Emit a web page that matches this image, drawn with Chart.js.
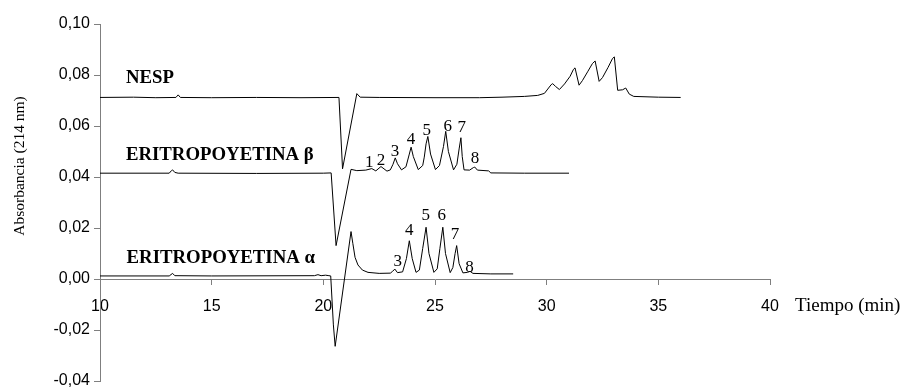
<!DOCTYPE html>
<html>
<head>
<meta charset="utf-8">
<script src="https://cdn.jsdelivr.net/npm/chart.js@4/dist/chart.umd.min.js"></script>
<style>
  html, body { margin: 0; padding: 0; background: #fff; }
  #wrap { width: 903px; height: 389px; }
</style>
</head>
<body>
<div id="wrap"><canvas id="chrom" width="903" height="389"></canvas></div>
<script>
// Axis ticks
const timeTicks = [10, 15, 20, 25, 30, 35, 40];
const absTicks = [-0.04, -0.02, 0.00, 0.02, 0.04, 0.06, 0.08, 0.10];

// NESP electropherogram
const nespTime = [10.0, 11.5, 12.5, 13.4, 13.5, 13.6, 15.0, 17.0, 19.0, 20.70, 20.86, 21.50, 21.65, 22.5, 25.0, 27.0,
  28.0, 29.0, 29.6, 29.9, 30.05, 30.2, 30.27, 30.4, 30.57, 30.8, 31.05, 31.2, 31.27, 31.45, 31.6, 31.85, 32.05, 32.17, 32.35,
  32.5, 32.75, 32.95, 33.03, 33.18, 33.4, 33.54, 33.7, 33.9, 35.0, 36.0];
const nespAbs = [0.0712, 0.0713, 0.0711, 0.0712, 0.0722, 0.0712, 0.0711, 0.0712, 0.0711, 0.0712, 0.0432, 0.0727, 0.0713, 0.0712, 0.0711, 0.0711,
  0.0713, 0.0716, 0.0720, 0.0728, 0.0745, 0.0762, 0.0766, 0.0755, 0.0743, 0.0765, 0.0795, 0.0822, 0.0828, 0.0760, 0.0778, 0.0815, 0.0845, 0.0855, 0.0775,
  0.0790, 0.0830, 0.0865, 0.0871, 0.0740, 0.0742, 0.0749, 0.0725, 0.0716, 0.0713, 0.0712];

// Eritropoyetina beta electropherogram
const betaTime = [10.0, 13.1, 13.2, 13.25, 13.35, 13.5, 17.0, 20.0, 20.35, 20.57, 21.24, 21.5, 21.9, 22.17, 22.35, 22.58, 22.85,
  23.0, 23.12, 23.22, 23.32, 23.5, 23.7, 23.85, 23.93, 24.03, 24.25, 24.45, 24.52, 24.6, 24.68, 24.8, 25.02,
  25.2, 25.38, 25.48, 25.6, 25.83, 25.98, 26.08, 26.16, 26.22, 26.3, 26.55, 26.72, 26.78, 26.9, 27.4, 27.5, 29.0, 31.0];
const betaAbs = [0.0415, 0.0415, 0.0425, 0.0428, 0.0418, 0.0415, 0.0414, 0.0415, 0.0416, 0.0131, 0.0430, 0.0425, 0.0427, 0.0433, 0.0424, 0.0441, 0.0423,
  0.0428, 0.0450, 0.0475, 0.0452, 0.0428, 0.0440, 0.0490, 0.0517, 0.0480, 0.0429, 0.0445, 0.0478, 0.0530, 0.0559, 0.0490, 0.0429,
  0.0445, 0.0520, 0.0579, 0.0500, 0.0428, 0.0450, 0.0510, 0.0554, 0.0480, 0.0428, 0.0427, 0.0437, 0.0439, 0.0427, 0.0424, 0.0416, 0.0415, 0.0415];

// Eritropoyetina alfa electropherogram
const alfaTime = [10.0, 13.1, 13.25, 13.35, 15.0, 19.6, 19.76, 19.9, 20.1, 20.25, 20.33, 20.45, 20.53, 21.24, 21.32, 21.42, 21.55, 21.75, 22.0, 22.5, 23.0,
  23.1, 23.2, 23.32, 23.55, 23.72, 23.85, 23.98, 24.15, 24.3, 24.45, 24.6, 24.73, 24.95, 25.1, 25.22, 25.35, 25.47, 25.68,
  25.8, 25.9, 25.97, 26.08, 26.25, 26.45, 26.57, 26.7, 27.5, 28.5];
const alfaAbs = [0.0012, 0.0012, 0.0022, 0.0013, 0.0012, 0.0013, 0.0017, 0.0013, 0.0015, 0.0013, 0.0012, -0.0180, -0.0264, 0.0186, 0.0140, 0.0085, 0.0055, 0.0035, 0.0026, 0.0022, 0.0023,
  0.0030, 0.0039, 0.0025, 0.0028, 0.0080, 0.0150, 0.0080, 0.0026, 0.0035, 0.0120, 0.0203, 0.0100, 0.0026, 0.0040, 0.0120, 0.0203, 0.0100, 0.0025,
  0.0045, 0.0100, 0.0131, 0.0060, 0.0024, 0.0026, 0.0030, 0.0022, 0.0020, 0.0020];

// Trace names and where they are written (time, absorbance of text baseline)
const traceNames = ['NESP', 'ERITROPOYETINA \u03b2', 'ERITROPOYETINA \u03b1'];
const traceNameTime = [11.16, 11.16, 11.19];
const traceNameAbs = [0.0770, 0.0468, 0.0063];

// Isoform numbers over the peaks (time, absorbance of text centre)
const betaPeakNums = ['1', '2', '3', '4', '5', '6', '7', '8'];
const betaPeakTime = [22.06, 22.58, 23.21, 23.93, 24.63, 25.57, 26.20, 26.79];
const betaPeakAbs = [0.0458, 0.0465, 0.0500, 0.0547, 0.0582, 0.0598, 0.0595, 0.0474];
const alfaPeakNums = ['3', '4', '5', '6', '7', '8'];
const alfaPeakTime = [23.33, 23.85, 24.59, 25.30, 25.90, 26.54];
const alfaPeakAbs = [0.0069, 0.0192, 0.0248, 0.0248, 0.0176, 0.0045];

const xTitle = 'Tiempo (min)';
const yTitle = 'Absorbancia (214 nm)';

function pts(ts, vs) { return ts.map((t, i) => ({ x: t, y: vs[i] })); }
function traceSet(ts, vs) {
  return {
    data: pts(ts, vs),
    borderColor: '#000',
    borderWidth: 1,
    pointRadius: 0,
    fill: false,
    tension: 0
  };
}

const AXIS_GRAY = '#7f7f7f';

// Writes trace names, peak numbers and axis titles
const annotate = {
  id: 'annotate',
  afterDatasetsDraw(chart) {
    const { ctx, scales: { x, y } } = chart;
    ctx.save();
    ctx.fillStyle = '#000';

    ctx.font = 'bold 18.8px "Liberation Serif", "Times New Roman", serif';
    ctx.textAlign = 'left';
    ctx.textBaseline = 'alphabetic';
    traceNames.forEach((s, i) => {
      ctx.fillText(s, x.getPixelForValue(traceNameTime[i]), y.getPixelForValue(traceNameAbs[i]));
    });

    ctx.font = '17px "Liberation Serif", "Times New Roman", serif';
    ctx.textAlign = 'center';
    ctx.textBaseline = 'middle';
    betaPeakNums.forEach((s, i) => {
      ctx.fillText(s, x.getPixelForValue(betaPeakTime[i]), y.getPixelForValue(betaPeakAbs[i]));
    });
    alfaPeakNums.forEach((s, i) => {
      ctx.fillText(s, x.getPixelForValue(alfaPeakTime[i]), y.getPixelForValue(alfaPeakAbs[i]));
    });

    // x-axis title to the right of the last tick label
    ctx.font = '19px "Liberation Serif", "Times New Roman", serif';
    ctx.textAlign = 'left';
    ctx.textBaseline = 'alphabetic';
    ctx.fillText(xTitle, x.right + 25, y.getPixelForValue(0) + 32);

    // y-axis title, rotated
    ctx.font = '15.5px "Liberation Serif", "Times New Roman", serif';
    ctx.translate(20, 166);
    ctx.rotate(-Math.PI / 2);
    ctx.textAlign = 'center';
    ctx.textBaseline = 'middle';
    ctx.fillText(yTitle, 0, 0);
    ctx.restore();
  }
};

new Chart(document.getElementById('chrom'), {
  type: 'line',
  data: {
    datasets: [traceSet(nespTime, nespAbs), traceSet(betaTime, betaAbs), traceSet(alfaTime, alfaAbs)]
  },
  options: {
    responsive: false,
    animation: false,
    events: [],
    layout: { padding: { top: 24, right: 133, bottom: 8, left: 0 } },
    plugins: { legend: { display: false }, tooltip: { enabled: false } },
    scales: {
      x: {
        type: 'linear',
        position: { y: 0 },
        min: timeTicks[0],
        max: timeTicks[timeTicks.length - 1],
        afterBuildTicks(scale) { scale.ticks = timeTicks.map(v => ({ value: v })); },
        ticks: {
          color: '#000',
          font: { family: '"Liberation Sans", Arial, sans-serif', size: 16 },
          padding: 13,
          maxRotation: 0,
          callback: v => String(v)
        },
        grid: { drawOnChartArea: false, drawTicks: true, tickLength: 5, color: AXIS_GRAY },
        border: { display: true, color: AXIS_GRAY, width: 1 }
      },
      y: {
        type: 'linear',
        position: 'left',
        min: absTicks[0],
        max: absTicks[absTicks.length - 1],
        afterBuildTicks(scale) { scale.ticks = absTicks.map(v => ({ value: v })); },
        afterFit(scale) {
          scale.width = 100;
          // let the layout padding alone decide where the plot starts and ends
          scale.paddingTop = 0;
          scale.paddingBottom = 0;
        },
        ticks: {
          color: '#000',
          font: { family: '"Liberation Sans", Arial, sans-serif', size: 16 },
          padding: 4,
          callback: v => v.toFixed(2).replace('.', ',')
        },
        grid: { drawOnChartArea: false, drawTicks: true, tickLength: 6, color: AXIS_GRAY },
        border: { display: true, color: AXIS_GRAY, width: 1 }
      }
    }
  },
  plugins: [annotate]
});
</script>
</body>
</html>
